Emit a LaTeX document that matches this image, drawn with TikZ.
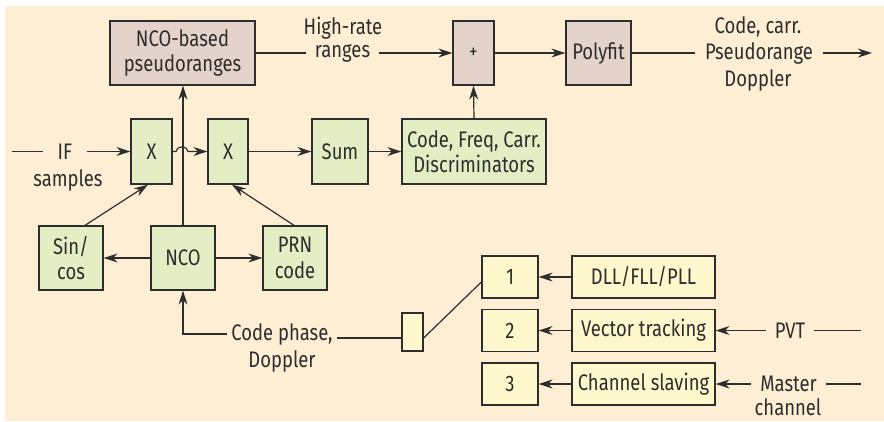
\documentclass[tikz,border=0pt]{standalone}
\usepackage{fontspec}
\setmainfont[FakeStretch=0.82]{Fira Sans}
\usetikzlibrary{arrows.meta,calc}
\definecolor{bg}{RGB}{254,239,212}
\definecolor{grn}{RGB}{228,238,196}
\definecolor{pnk}{RGB}{228,211,203}
\definecolor{ylw}{RGB}{255,248,204}
\definecolor{ink}{RGB}{45,45,45}
\begin{document}
\begin{tikzpicture}[x=1pt,y=-1pt,
  every node/.style={font=\fontsize{22.5}{25.6}\selectfont, text=ink},
  box/.style={draw=ink, line width=1.3pt, inner sep=0pt, align=center},
  gbox/.style={box, fill=grn},
  pbox/.style={box, fill=pnk},
  ybox/.style={box, fill=ylw},
  lab/.style={inner ysep=0pt, align=center},
  wire/.style={draw=ink, line width=1.2pt},
  arr/.style={wire, -{Stealth[length=14pt,width=9pt,inset=4.5pt]}},
]
\useasboundingbox (0,0) rectangle (884,421);
\fill[bg] (5,6) rectangle (884,421);

% top row
\node[pbox, minimum width=145pt, minimum height=64pt] (ncop) at (182.5,53) {NCO-based\\pseudoranges};
\node[pbox, minimum width=41pt, minimum height=64pt, font=\fontsize{20}{20}\selectfont] (plus) at (473.5,53) {+};
\node[pbox, minimum width=65pt, minimum height=64pt] (poly) at (598.5,53) {Polyfit};

% middle row
\node[gbox, minimum width=41pt, minimum height=65pt] (x1) at (151.5,151.5) {X};
\node[gbox, minimum width=40pt, minimum height=65pt] (x2) at (228,151.5) {X};
\node[gbox, minimum width=56pt, minimum height=65pt] (sum) at (340,151.5) {Sum};
\node[gbox, minimum width=144pt, minimum height=65pt] (disc) at (474,151.5) {Code, Freq, Carr.\\Discriminators};

% lower row
\node[gbox, minimum width=64pt, minimum height=64pt] (sincos) at (71,258) {Sin/\\cos};
\node[gbox, minimum width=64pt, minimum height=64pt] (nco) at (183,258) {NCO};
\node[gbox, minimum width=64pt, minimum height=64pt] (prn) at (295,258) {PRN\\code};

% switch and loop boxes
\node[ybox, minimum width=21pt, minimum height=38pt] (small) at (412.5,332) {};
\node[ybox, minimum width=56pt, minimum height=42pt] (b1) at (510,277) {1};
\node[ybox, minimum width=56pt, minimum height=42pt] (b2) at (510,330.5) {2};
\node[ybox, minimum width=56pt, minimum height=42pt] (b3) at (510,384) {3};
\node[ybox, minimum width=143pt, minimum height=42pt] (dll) at (643.5,277) {DLL/FLL/PLL};
\node[ybox, minimum width=143pt, minimum height=42pt] (vec) at (643.5,330.5) {Vector tracking};
\node[ybox, minimum width=143pt, minimum height=42pt] (chs) at (643.5,384) {Channel slaving};

% labels
\node[lab, inner xsep=15pt] (iflab) at (65,151.5) {IF};
\node[lab, inner xsep=0pt] (samples) at (68,180) {samples};
\node[lab, inner xsep=0pt] (hr1) at (343,28) {High-rate};
\node[lab, inner xsep=9pt] (hr2) at (342.5,53) {ranges};
\node[lab, inner xsep=0pt] (oc1) at (758,27) {Code, carr.};
\node[lab, inner xsep=9.5pt] (oc2) at (759,53) {Pseudorange};
\node[lab, inner xsep=0pt] (oc3) at (758,80) {Doppler};
\node[lab, inner xsep=4pt] (cp) at (282,334) {Code phase,};
\node[lab, inner xsep=0pt] (cpd) at (282,361) {Doppler};
\node[lab, inner xsep=9pt] (pvt) at (790,330.5) {PVT};
\node[lab, inner xsep=9pt] (mst) at (788.5,384) {Master};
\node[lab, inner xsep=0pt] (mstc) at (788,407.5) {channel};

% free ends
\coordinate (ifin) at (12,151.5);
\coordinate (outend) at (872,53);
\coordinate (pvtend) at (861,330.5);
\coordinate (mstend) at (861,384);

% connectors
\draw[wire] (ifin) -- (iflab.west);
\draw[arr] (iflab.east) -- (x1.west);
\draw[arr] (x1.east) -- (176,151.5) arc[start angle=180, end angle=0, x radius=6pt, y radius=4.5pt] -- (x2.west);
\draw[arr] (x2.east) -- (sum.west);
\draw[arr] (sum.east) -- (disc.west);
\draw[arr] (disc.north) -- (plus.south);
\draw[wire] (ncop.east) -- (hr2.west);
\draw[arr] (hr2.east) -- (plus.west);
\draw[arr] (plus.east) -- (poly.west);
\draw[wire] (poly.east) -- (oc2.west);
\draw[arr] (oc2.east) -- (outend);

\draw[arr] (nco.north) -- (nco.north |- ncop.south);
\draw[arr] (nco.west) -- (sincos.east);
\draw[arr] (nco.east) -- (prn.west);
\draw[arr] ([xshift=14pt]sincos.north) -- ([xshift=-3.5pt]x1.south);
\draw[arr] ([xshift=-1pt]prn.north) -- ([xshift=4pt]x2.south);

\draw[arr] (cp.west) -- (cp.west -| nco.south) -- (nco.south);
\coordinate (cpr) at ([yshift=-4pt]cp.east);
\draw[wire] (cpr) -- (cpr -| small.west);
\draw[wire] (small.east |- cpr) -- ([yshift=-5pt]b1.west);

\draw[arr] (dll.west) -- (b1.east);
\draw[arr] (vec.west) -- (b2.east);
\draw[arr] (chs.west) -- (b3.east);
\draw[wire] (pvtend) -- (pvt.east);
\draw[arr] (pvt.west) -- (vec.east);
\draw[wire] (mstend) -- (mst.east);
\draw[arr] (mst.west) -- (chs.east);
\end{tikzpicture}
\end{document}
